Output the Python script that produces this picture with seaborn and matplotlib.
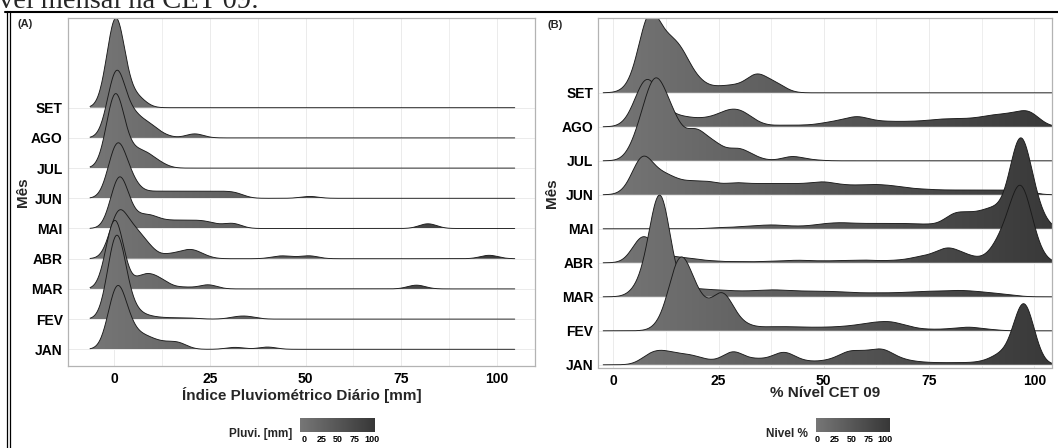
import numpy as np
import matplotlib
matplotlib.use("Agg")
import matplotlib.pyplot as plt
import matplotlib.transforms as mtransforms
from matplotlib.colors import LinearSegmentedColormap, Normalize
from matplotlib.path import Path
from matplotlib.patches import PathPatch
from matplotlib.lines import Line2D
from matplotlib.ticker import MultipleLocator
import seaborn as sns

# ---------------------------------------------------------------- data
meses = ["JAN", "FEV", "MAR", "ABR", "MAI", "JUN", "JUL", "AGO", "SET"]
x_ticks = [0, 25, 50, 75, 100]

# (A) daily rainfall: observed values [mm] and their relative frequency
pluvi_jan_mm = [0.6, 4, 8, 11.5, 14.5, 17, 31.5, 40]
pluvi_jan_freq = [1.8, 0.5, 0.3, 0.15, 0.1, 0.15, 0.06, 0.07]
pluvi_fev_mm = [0.5, 4, 8, 12, 16, 20, 32, 35]
pluvi_fev_freq = [2.75, 0.35, 0.1, 0.04, 0.03, 0.03, 0.06, 0.07]
pluvi_mar_mm = [0.1, 7, 10, 13, 18.5, 24.5, 79]
pluvi_mar_freq = [2.2, 0.3, 0.28, 0.15, 0.05, 0.13, 0.12]
pluvi_abr_mm = [1.0, 5, 8.5, 14, 17, 20, 23, 43, 46, 51, 98]
pluvi_abr_freq = [1.4, 0.7, 0.35, 0.1, 0.1, 0.22, 0.08, 0.07, 0.04, 0.09, 0.11]
pluvi_mai_mm = [1.3, 5.5, 9, 12, 15, 18, 21, 24, 27, 31, 82]
pluvi_mai_freq = [1.6, 0.25, 0.3, 0.14, 0.14, 0.14, 0.14, 0.14, 0.06, 0.15, 0.15]
pluvi_jun_mm = [0.6, 4, 8, 11, 14, 17, 20, 23, 26, 29, 32, 51]
pluvi_jun_freq = [1.6, 0.5, 0.12, 0.12, 0.12, 0.12, 0.12, 0.12, 0.12, 0.12, 0.12, 0.06]
pluvi_jul_mm = [0.2, 4.5, 8, 11.5]
pluvi_jul_freq = [2.38, 0.4, 0.38, 0.15]
pluvi_ago_mm = [0.5, 5, 9, 12.5, 21]
pluvi_ago_freq = [2.1, 0.6, 0.35, 0.08, 0.13]
pluvi_set_mm = [0.3, 3, 6]
pluvi_set_freq = [2.9, 0.15, 0.3]

# (B) reservoir level CET 09: observed values [%] and their relative frequency
nivel_jan_pct = [9, 12.5, 16.5, 20, 24, 28.5, 33.5, 37, 40.5, 44, 48, 52, 56, 60,
                 64, 68, 72, 76, 80, 84, 88, 92, 97.5]
nivel_jan_freq = [0.26, 0.26, 0.2, 0.15, 0.06, 0.35, 0.12, 0.08, 0.3, 0.08, 0.06, 0.1,
                  0.3, 0.25, 0.35, 0.12, 0.06, 0.04, 0.04, 0.04, 0.06, 0.25, 1.75]
nivel_fev_pct = [12.5, 15.8, 19.5, 22.5, 26, 30, 34, 38, 42, 46, 50, 54, 58, 62, 66,
                 70, 75, 80, 84.5, 89]
nivel_fev_freq = [0.2, 1.6, 0.65, 0.2, 0.85, 0.15, 0.06, 0.07, 0.07, 0.06, 0.06, 0.07,
                  0.1, 0.15, 0.17, 0.08, 0.03, 0.04, 0.08, 0.03]
nivel_mar_pct = [7, 11.1, 18, 22, 26, 30, 34, 38, 42, 46, 50, 54, 58, 62, 66, 70, 74,
                 78, 82, 86, 90, 94]
nivel_mar_freq = [0.3, 2.7, 0.17, 0.13, 0.12, 0.1, 0.11, 0.13, 0.11, 0.1, 0.1, 0.09,
                  0.07, 0.07, 0.07, 0.08, 0.1, 0.1, 0.12, 0.1, 0.07, 0.04]
nivel_abr_pct = [7, 11, 15, 19, 24, 30, 36, 41, 45, 50, 55, 60, 65, 69, 73, 77, 80,
                 84, 89, 92.5, 96.6, 99.5]
nivel_abr_freq = [0.65, 0.15, 0.1, 0.08, 0.04, 0.03, 0.03, 0.04, 0.05, 0.04, 0.05,
                  0.06, 0.04, 0.05, 0.12, 0.15, 0.28, 0.15, 0.08, 0.55, 1.75, 0.35]
nivel_mai_pct = [25, 30, 34, 38, 42, 46, 50, 54, 58, 62, 66, 70, 74, 77, 81, 85, 89,
                 92, 96.6, 100]
nivel_mai_freq = [0.03, 0.04, 0.06, 0.08, 0.05, 0.05, 0.1, 0.12, 0.1, 0.1, 0.1, 0.1,
                  0.08, 0.05, 0.35, 0.3, 0.35, 0.3, 2.35, 0.5]
nivel_jun_pct = [4, 7, 11.5, 15, 19, 23, 27, 30, 34, 38, 42, 46, 50, 54, 58, 62, 66,
                 70, 74, 78, 82, 86, 90, 94, 98]
nivel_jun_freq = [0.05, 0.95, 0.4, 0.25, 0.25, 0.25, 0.15, 0.2, 0.2, 0.2, 0.2, 0.2,
                  0.25, 0.18, 0.17, 0.19, 0.17, 0.12, 0.1, 0.085, 0.085, 0.085,
                  0.085, 0.085, 0.07]
nivel_jul_pct = [6.5, 10, 14, 19.5, 24, 29.5, 33, 42.5, 47]
nivel_jul_freq = [0.55, 1.6, 0.85, 0.65, 0.35, 0.25, 0.08, 0.1, 0.02]
nivel_ago_pct = [5.5, 8, 11.5, 15.5, 19, 23, 27, 30.5, 34, 40, 45, 50, 54, 58, 62, 66,
                 70, 74, 78, 82, 86, 90, 94, 98, 100]
nivel_ago_freq = [0.2, 0.85, 0.3, 0.15, 0.12, 0.14, 0.25, 0.25, 0.06, 0.03, 0.03,
                  0.06, 0.1, 0.18, 0.09, 0.08, 0.08, 0.09, 0.12, 0.12, 0.13, 0.18,
                  0.2, 0.24, 0.1]
nivel_set_pct = [5, 8.5, 12.5, 16, 20, 25, 29, 34, 38.5]
nivel_set_freq = [0.15, 1.85, 0.9, 0.85, 0.25, 0.12, 0.15, 0.45, 0.22]

pluvi_series = [
    (pluvi_jan_mm, pluvi_jan_freq), (pluvi_fev_mm, pluvi_fev_freq),
    (pluvi_mar_mm, pluvi_mar_freq), (pluvi_abr_mm, pluvi_abr_freq),
    (pluvi_mai_mm, pluvi_mai_freq), (pluvi_jun_mm, pluvi_jun_freq),
    (pluvi_jul_mm, pluvi_jul_freq), (pluvi_ago_mm, pluvi_ago_freq),
    (pluvi_set_mm, pluvi_set_freq),
]
nivel_series = [
    (nivel_jan_pct, nivel_jan_freq), (nivel_fev_pct, nivel_fev_freq),
    (nivel_mar_pct, nivel_mar_freq), (nivel_abr_pct, nivel_abr_freq),
    (nivel_mai_pct, nivel_mai_freq), (nivel_jun_pct, nivel_jun_freq),
    (nivel_jul_pct, nivel_jul_freq), (nivel_ago_pct, nivel_ago_freq),
    (nivel_set_pct, nivel_set_freq),
]

# ---------------------------------------------------------------- style
sns.set_theme(style="white")
plt.rcParams["font.family"] = ["Liberation Sans", "DejaVu Sans"]

W, H = 1058, 448
GRID = "#ebebeb"
BORDER = "#b3b3b3"
LINE = "#1a1a1a"
CMAP = LinearSegmentedColormap.from_list("cinza", ["#767676", "#373737"])


def fx(px):
    return px / W


def fy(py):
    return 1 - py / H


def draw_ridges(ax, series, bw, support, peak_rows, norm):
    """Gradient-filled density ridges, one row per month (JAN at the bottom)."""
    curves = []
    for pos in range(len(meses) - 1, -1, -1):
        vals = np.asarray(series[pos][0], float)
        freq = np.asarray(series[pos][1], float)
        sd = float(np.sqrt(np.cov(vals, aweights=freq)))
        sns.kdeplot(x=vals, weights=freq, bw_method=bw / sd, cut=80, clip=support,
                    gridsize=800, ax=ax, color=LINE, linewidth=0.65)
        curves.append((pos, ax.lines[-1]))

    dmax = max(line.get_ydata().max() for _, line in curves)
    k = peak_rows / dmax
    grad = np.linspace(support[0], support[1], 600)[None, :]
    for order, (pos, line) in enumerate(curves):
        trans = mtransforms.Affine2D().scale(1, k).translate(0, pos) + ax.transData
        line.set_transform(trans)
        line.set_zorder(4 + 2 * order)
        x = line.get_xdata()
        y = line.get_ydata()
        verts = np.column_stack([np.r_[x[0], x, x[-1]], np.r_[0, y, 0]])
        shape = PathPatch(Path(verts), transform=trans, facecolor="none",
                          edgecolor="none")
        img = ax.imshow(grad, extent=(support[0], support[1], pos, pos + k * y.max()),
                        origin="lower", aspect="auto", cmap=CMAP, norm=norm,
                        interpolation="bilinear", zorder=3 + 2 * order)
        img.set_clip_path(shape)


def style_axes(ax, xlim, ylim, xlabel, ylabel, xlabel_y, ylabel_x):
    ax.set_xlim(*xlim)
    ax.set_ylim(*ylim)
    ax.set_xticks(x_ticks)
    ax.set_xticklabels([str(t) for t in x_ticks])
    ax.xaxis.set_minor_locator(MultipleLocator(12.5))
    ax.set_yticks(range(len(meses)))
    ax.set_yticklabels(meses)
    ax.set_axisbelow(True)
    ax.grid(True, which="major", color=GRID, linewidth=0.7)
    ax.grid(True, which="minor", axis="x", color=GRID, linewidth=0.6)
    for sp in ax.spines.values():
        sp.set_color(BORDER)
        sp.set_linewidth(0.9)
        sp.set_zorder(40)
    ax.tick_params(which="major", length=2.2, width=0.7, color=BORDER,
                   labelsize=10, labelcolor="black", pad=1.5)
    ax.tick_params(axis="x", pad=2.4)
    ax.tick_params(which="minor", length=0)
    for lab in ax.get_xticklabels() + ax.get_yticklabels():
        lab.set_fontweight("bold")
    ax.set_xlabel(xlabel, fontsize=11, fontweight="bold")
    ax.set_ylabel(ylabel, fontsize=11, fontweight="bold")
    ax.xaxis.set_label_coords(0.5, xlabel_y)
    ax.xaxis.label.set_va("center")
    ax.yaxis.set_label_coords(ylabel_x, 0.5)
    ax.yaxis.label.set_va("center")
    ax.set_facecolor("white")


def colorbar(fig, rect, norm, title, title_right):
    cax = fig.add_axes(rect)
    sm = matplotlib.cm.ScalarMappable(norm=norm, cmap=CMAP)
    cb = fig.colorbar(sm, cax=cax, orientation="horizontal", ticks=x_ticks)
    cb.outline.set_visible(False)
    cax.tick_params(axis="x", direction="in", color="white", length=2.5, width=0.8,
                    top=True, bottom=True, labelsize=6.5, labelcolor="black", pad=1.8)
    cax.set_xticklabels([str(t) for t in x_ticks])
    for lab in cax.get_xticklabels():
        lab.set_fontweight("bold")
    fig.text(title_right, fy(434), title, ha="right", va="center", fontsize=8.5,
             fontweight="bold")


# ---------------------------------------------------------------- figure
fig = plt.figure(figsize=(W / 100, H / 100), dpi=100)

sup_a = (-6.4, 104.7)
sup_b = (-2.4, 107.4)
norm_a = Normalize(*sup_a)
norm_b = Normalize(*sup_b)

ax_a = fig.add_axes([fx(68), fy(366), (535 - 68) / W, (366 - 18) / H])
draw_ridges(ax_a, pluvi_series, bw=2.3, support=sup_a, peak_rows=2.97, norm=norm_a)
style_axes(ax_a, (-12.16, 110.0), (-0.553, 10.97),
           "Índice Pluviométrico Diário [mm]", "Mês", -0.083, -0.0964)

ax_b = fig.add_axes([fx(598.3), fy(367.5), (1052 - 598.3) / W, (367.5 - 18) / H])
draw_ridges(ax_b, nivel_series, bw=2.45, support=sup_b, peak_rows=2.99, norm=norm_b)
style_axes(ax_b, (-3.56, 104.2), (-0.08, 10.2),
           "% Nível CET 09", "Mês", -0.073, -0.102)

colorbar(fig, [fx(300), fy(432), 75 / W, 14 / H], norm_a, "Pluvi. [mm]", fx(292))
colorbar(fig, [fx(816), fy(432), 74 / W, 14 / H], norm_b, "Nivel %", fx(808))

# panel tags
fig.text(fx(17), fy(24), "(A)", ha="left", va="center", fontsize=8, fontweight="bold")
fig.text(fx(548), fy(25), "(B)", ha="left", va="center", fontsize=8, fontweight="bold")

# surrounding page frame and the caption line above it
frame = dict(transform=fig.transFigure, color="black")
fig.add_artist(Line2D([fx(5), fx(1058)], [fy(12), fy(12)], linewidth=1.5, **frame))
fig.add_artist(Line2D([fx(6.5), fx(6.5)], [fy(11), fy(448)], linewidth=0.9, **frame))
fig.add_artist(Line2D([fx(10), fx(10)], [fy(11), fy(448)], linewidth=0.9, **frame))
fig.text(fx(-1), fy(8), "vel mensal na CET 09:", ha="left", va="baseline",
         fontsize=20.5, family=["Liberation Serif", "DejaVu Serif"])

fig.savefig("out.png", dpi=100, facecolor="white")
